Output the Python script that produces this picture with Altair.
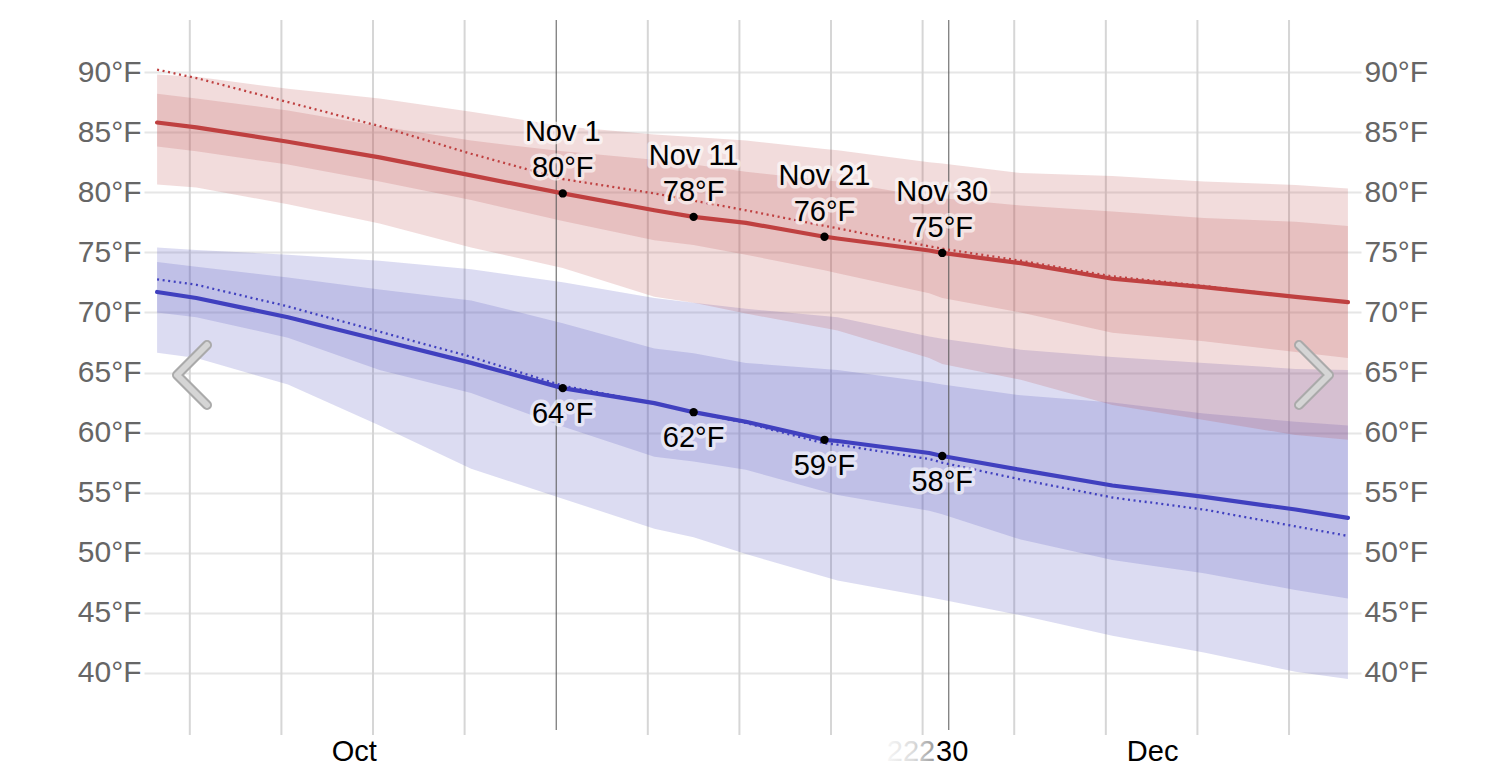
import altair as alt
import pandas as pd
from datetime import datetime

FONT = "Liberation Sans"
YEAR = 2023
BASE = datetime(YEAR, 10, 1)

# ---------------- data ----------------
dates = ["Oct 1", "Oct 4", "Oct 11", "Oct 18", "Oct 25", "Nov 1", "Nov 8", "Nov 11",
         "Nov 15", "Nov 21", "Nov 22", "Nov 29", "Nov 30", "Dec 6", "Dec 13",
         "Dec 20", "Dec 27", "Dec 31"]

high_mean = [85.8, 85.4, 84.2, 82.9, 81.4, 79.9, 78.5, 77.95, 77.45, 76.3, 76.15,
             75.15, 74.95, 74.1, 72.8, 72.1, 71.3, 70.85]
high_year = [90.2, 89.5, 87.5, 85.5, 83.2, 81.1, 79.9, 79.3, 78.5, 77.2, 77.0,
             75.5, 75.3, 74.3, 73.0, 72.2, 71.3, 70.9]
high_p90 = [89.8, 89.6, 88.6, 87.8, 86.7, 85.5, 84.8, 84.6, 84.3, 83.6, 83.5,
            82.5, 82.4, 81.6, 81.35, 80.9, 80.6, 80.3]
high_p75 = [88.2, 87.8, 86.8, 85.5, 84.3, 83.4, 82.7, 82.3, 81.7, 81.0, 80.9,
            79.6, 79.5, 78.9, 78.4, 77.85, 77.55, 77.2]
high_p25 = [83.8, 83.4, 82.3, 80.9, 79.35, 77.6, 76.0, 75.6, 74.8, 73.5, 73.25,
            71.6, 71.2, 70.0, 68.3, 67.6, 66.7, 66.2]
high_p10 = [80.65, 80.4, 79.0, 77.4, 75.4, 73.7, 71.3, 70.8, 69.9, 68.7, 68.5,
            66.2, 65.7, 64.4, 62.3, 61.05, 59.8, 59.4]

low_mean = [71.7, 71.2, 69.6, 67.7, 65.8, 63.7, 62.45, 61.7, 60.9, 59.4, 59.3,
            58.3, 58.05, 56.9, 55.6, 54.65, 53.6, 52.9]
low_year = [72.75, 72.3, 70.5, 68.4, 66.3, 63.9, 62.45, 61.7, 60.8, 59.1, 59.0,
            57.8, 57.5, 56.1, 54.6, 53.6, 52.2, 51.4]
low_p90 = [75.4, 75.2, 74.8, 74.3, 73.6, 72.5, 71.2, 70.8, 70.3, 69.7, 69.6,
           68.0, 67.8, 66.9, 66.3, 65.8, 65.3, 65.2]
low_p75 = [74.2, 73.8, 72.9, 71.9, 71.0, 69.1, 67.0, 66.6, 65.8, 65.3, 65.2,
           64.2, 64.0, 63.1, 62.5, 61.6, 60.9, 60.6]
low_p25 = [70.0, 69.6, 67.9, 65.2, 63.3, 60.5, 58.0, 57.6, 56.9, 55.1, 54.8,
           53.5, 53.2, 51.1, 49.4, 48.3, 46.9, 46.2]
low_p10 = [66.65, 66.2, 64.0, 60.6, 57.0, 54.5, 52.0, 51.3, 49.9, 48.0, 47.7,
           46.3, 46.1, 44.8, 43.1, 41.7, 40.1, 39.5]

week_lines = ["Oct 4", "Oct 11", "Oct 18", "Oct 25", "Nov 8", "Nov 15", "Nov 22",
              "Nov 29", "Dec 6", "Dec 13", "Dec 20", "Dec 27"]
month_lines = ["Nov 1", "Dec 1"]
month_labels = ["Oct", "Dec"]
month_label_days = ["Oct 16", "Dec 16"]
marked_days = ["Nov 1", "Nov 11", "Nov 21", "Nov 30"]
current_day = "Nov 30"
current_label = "30"
ghost_label = "222"
y_ticks = [40, 45, 50, 55, 60, 65, 70, 75, 80, 85, 90]


def day_of(label, hour=12):
    d = datetime.strptime(f"{label} {YEAR}", "%b %d %Y")
    return (d - BASE).days + hour / 24.0


df = pd.DataFrame({
    "t": [day_of(d) for d in dates],
    "high_mean": high_mean, "high_year": high_year,
    "high_p90": high_p90, "high_p75": high_p75, "high_p25": high_p25, "high_p10": high_p10,
    "low_mean": low_mean, "low_year": low_year,
    "low_p90": low_p90, "low_p75": low_p75, "low_p25": low_p25, "low_p10": low_p10,
})

hi_lookup = dict(zip(dates, high_mean))
lo_lookup = dict(zip(dates, low_mean))
ann = pd.DataFrame({
    "t": [day_of(d) for d in marked_days],
    "date": marked_days,
    "hi": [hi_lookup[d] for d in marked_days],
    "lo": [lo_lookup[d] for d in marked_days],
})
ann["hi_txt"] = [f"{round(v)}°F" for v in ann["hi"]]
ann["lo_txt"] = [f"{round(v)}°F" for v in ann["lo"]]

weeks = pd.DataFrame({"t": [day_of(d, 0) for d in week_lines]})
months = pd.DataFrame({"t": [day_of(d, 0) for d in month_lines]})
mlabels = pd.DataFrame({"t": [day_of(d) for d in month_label_days], "lab": month_labels})
cur = pd.DataFrame({"t": [day_of(current_day)], "lab": [current_label], "g": [ghost_label]})
ticks = pd.DataFrame({"v": y_ticks})
one = pd.DataFrame({"k": [0]})

# ---------------- styling ----------------
W, H = 1217, 715
RED, BLUE = "#bf4040", "#4040bf"
RED_BAND, BLUE_BAND = "#be5050", "#5050be"

xscale = alt.Scale(domain=[-0.5, 92.5], nice=False, zero=False)
yscale = alt.Scale(domain=[34.84, 94.33], nice=False, zero=False)


def X(f):
    return alt.X(f, type="quantitative", scale=xscale, axis=None)


def Y(f):
    return alt.Y(f, type="quantitative", scale=yscale, axis=None)


layers = []

# weekly vertical grid
layers.append(alt.Chart(weeks).mark_rule(color="#d6d6d6", strokeWidth=2).encode(
    x=X("t"), y=alt.value(0), y2=alt.value(H)))

# bands
def band(lo, hi, color):
    return alt.Chart(df).mark_area(color=color, opacity=0.2).encode(
        x=X("t"), y=Y(hi), y2=alt.Y2(lo))

layers += [band("low_p10", "low_p90", BLUE_BAND), band("low_p25", "low_p75", BLUE_BAND),
           band("high_p10", "high_p90", RED_BAND), band("high_p25", "high_p75", RED_BAND)]

# month boundary lines
layers.append(alt.Chart(months).mark_rule(color="#555555", strokeWidth=1).encode(
    x=X("t"), y=alt.value(0), y2=alt.value(H - 5)))

# lines
for f, c in [("high_year", RED), ("low_year", BLUE)]:
    layers.append(alt.Chart(df).mark_line(color=c, strokeWidth=2.3, strokeDash=[2, 3.6]).encode(
        x=X("t"), y=Y(f)))
for f, c in [("high_mean", RED), ("low_mean", BLUE)]:
    layers.append(alt.Chart(df).mark_line(color=c, strokeWidth=4.2, strokeJoin="round",
                                          strokeCap="round").encode(x=X("t"), y=Y(f)))

# dots
for f in ["hi", "lo"]:
    layers.append(alt.Chart(ann).mark_circle(color="black", size=70, opacity=1).encode(
        x=X("t"), y=Y(f)))

# annotations with halo
def label(field, ypos, dy):
    halo = alt.Chart(ann).mark_text(font=FONT, fontSize=29, baseline="alphabetic", dy=dy,
                                    color="white", stroke="white", strokeWidth=7,
                                    strokeJoin="round", opacity=0.6).encode(
        x=X("t"), y=Y(ypos), text=f"{field}:N")
    txt = alt.Chart(ann).mark_text(font=FONT, fontSize=29, baseline="alphabetic", dy=dy,
                                   color="black").encode(
        x=X("t"), y=Y(ypos), text=f"{field}:N")
    return [halo, txt]

layers += label("date", "hi", -52)
layers += label("hi_txt", "hi", -16)
layers += label("lo_txt", "lo", 35)

# navigation chevrons
for path, xv in [("M 1 -2 L -1 0 L 1 2", 48), ("M -1 -2 L 1 0 L -1 2", 1170)]:
    for col, sw in [("#aaaaaa", 10), ("#d5d5d5", 6)]:
        layers.append(alt.Chart(one).mark_point(shape=path, filled=False, size=900,
                                                stroke=col, strokeWidth=sw, strokeCap="round",
                                                strokeJoin="round", opacity=1).encode(
            x=alt.value(xv), y=alt.value(355)))

# x labels
layers.append(alt.Chart(mlabels).mark_text(font=FONT, fontSize=29, color="black",
                                           baseline="alphabetic", dx=1).encode(
    x=X("t"), y=alt.value(H + 26), text="lab:N"))
ghost_fill = alt.Gradient(
    gradient="linear", x1=0, x2=1, y1=0, y2=0,
    stops=[alt.GradientStop(color="#f6f6f6", offset=0),
           alt.GradientStop(color="#dcdcdc", offset=0.55),
           alt.GradientStop(color="#9a9a9a", offset=1)])
layers.append(alt.Chart(cur).mark_text(font=FONT, fontSize=29, color=ghost_fill,
                                       baseline="alphabetic", align="right", dx=-7).encode(
    x=X("t"), y=alt.value(H + 26), text="g:N"))
layers.append(alt.Chart(cur).mark_text(font=FONT, fontSize=29, color="black",
                                       baseline="alphabetic", dx=10).encode(
    x=X("t"), y=alt.value(H + 26), text="lab:N"))

# y axes (left with grid, right labels only)
axis_common = dict(values=y_ticks, labelExpr="datum.value + '°F'", ticks=False, domain=False,
                   labelFontSize=30, labelColor="#666666", labelFont=FONT, labelPadding=3,
                   title=None)
left_axis = alt.Axis(orient="left", grid=True, gridColor="#e6e6e6", gridWidth=2, **axis_common)
right_axis = alt.Axis(orient="right", grid=False, **axis_common)
layers.insert(0, alt.Chart(ticks).mark_point(opacity=0).encode(
    y=alt.Y("v:Q", scale=yscale, axis=left_axis)))
layers.append(alt.Chart(ticks).mark_point(opacity=0).encode(
    y=alt.Y("v:Q", scale=yscale, axis=right_axis)))

chart = alt.layer(*layers).resolve_scale(y="independent").properties(
    width=W, height=H,
    autosize=alt.AutoSizeParams(type="none"),
    padding={"left": 136, "top": 12, "right": 137, "bottom": 31},
).configure_view(stroke=None)

chart.save("out.html", embed_options={"renderer": "svg", "actions": False})
